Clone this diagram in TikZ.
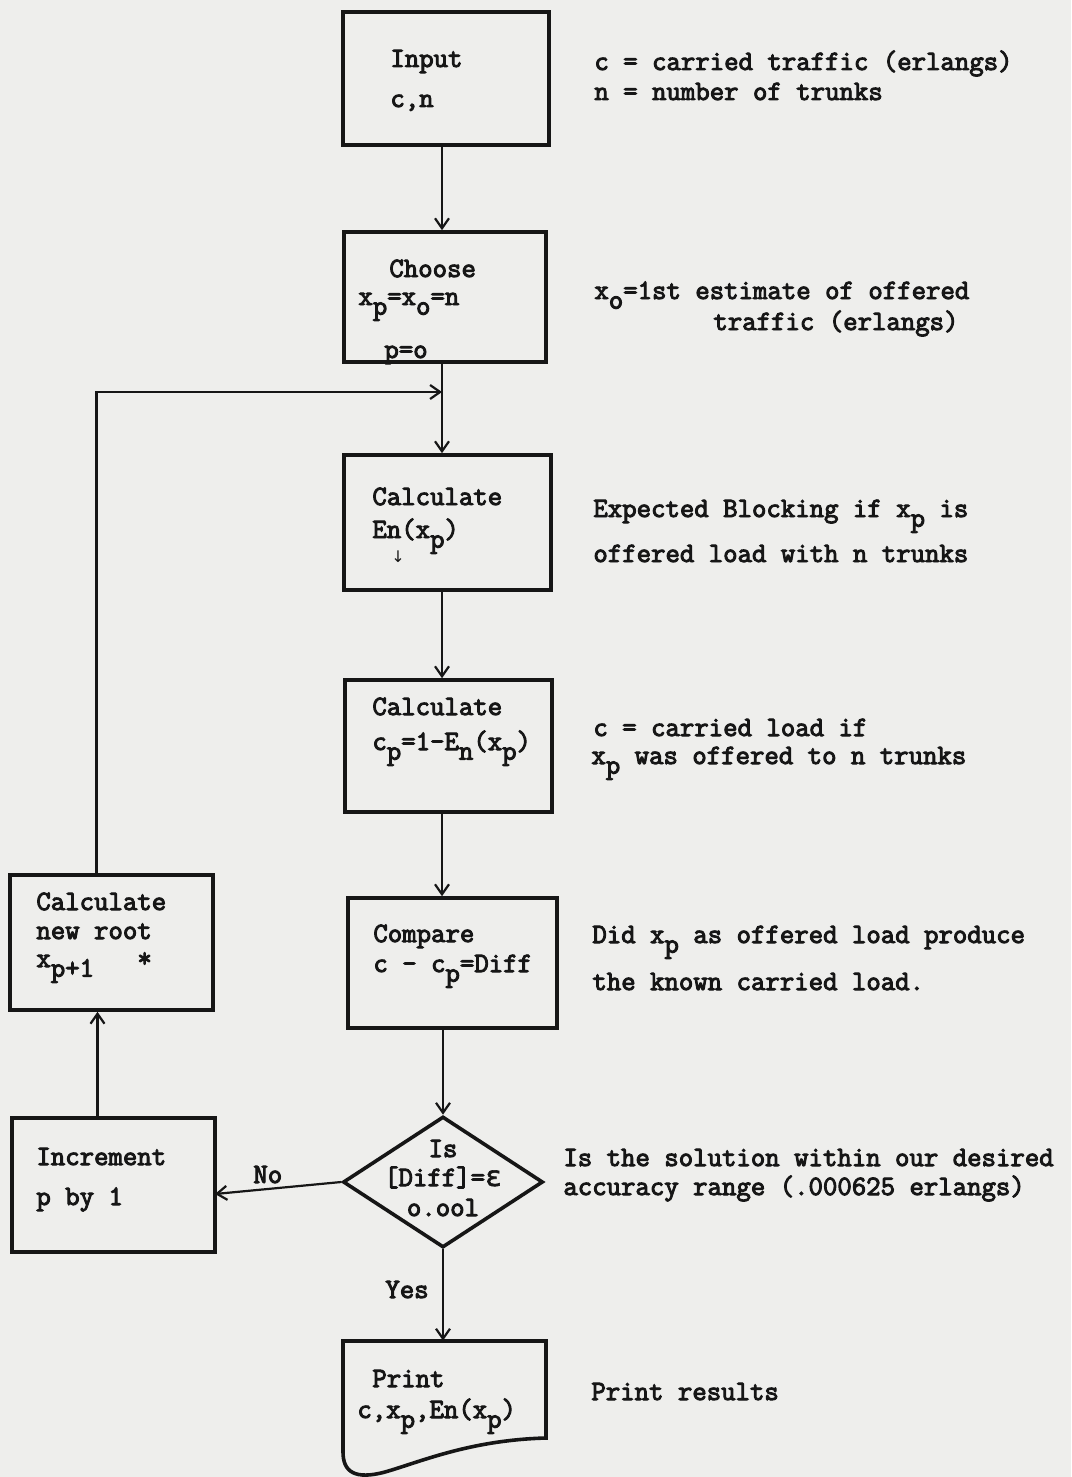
\documentclass[tikz,border=0pt]{standalone}
\usepackage{fontspec}
\newfontfamily\symfont{DejaVu Sans}
\newfontfamily\grkfont{DejaVu Sans Mono}[FakeBold=2]
\newfontfamily\twfont{Latin Modern Mono}[FakeBold=3.5]
\usetikzlibrary{shapes.geometric,arrows.meta}
\newcommand\sbs[1]{\raisebox{-0.8ex}{#1}}
\definecolor{ink}{RGB}{22,22,22}
\definecolor{paper}{RGB}{238,238,236}
\begin{document}
\begin{tikzpicture}[x=0.5pt,y=-0.5pt,
  box/.style={draw=ink, line width=1.8pt, inner sep=0pt},
  txt/.style={anchor=base west, inner sep=0pt, text=ink,
    font=\twfont\fontsize{14}{16}\selectfont},
  ctxt/.style={txt, anchor=base},
  arr/.style={draw=ink, line width=1.1pt, -{Straight Barb[length=5pt,width=7pt]}}]
\fill[paper] (0,0) rectangle (1071,1477);
\useasboundingbox (0,0) rectangle (1071,1477);

% boxes
\node[box, minimum width=103pt,   minimum height=66.5pt] (input)   at (446,78.5)   {};
\node[box, minimum width=101pt,   minimum height=65pt]   (choose)  at (445,297)    {};
\node[box, minimum width=103.5pt, minimum height=67.5pt] (calcen)  at (447.5,522.5){};
\node[box, minimum width=103.5pt, minimum height=66pt]   (calccp)  at (448.5,746)  {};
\node[box, minimum width=104.5pt, minimum height=65pt]   (compare) at (452.5,963)  {};
\node[box, diamond, minimum width=100pt, minimum height=65.5pt] (dec) at (443,1182) {};
\node[box, minimum width=101.5pt, minimum height=67.5pt] (newroot) at (111.5,942.5){};
\node[box, minimum width=101.5pt, minimum height=67pt]   (incr)    at (113.5,1185) {};
\node[inner sep=0pt, minimum width=101.5pt, minimum height=64.5pt] (print) at (444.5,1405.5) {};
\draw[ink, line width=1.8pt] (343,1341) -- (546,1341) -- (546,1438)
  .. controls (470,1440) and (420,1462) .. (385,1472)
  .. controls (355,1480) and (343,1472) .. (343,1452) -- cycle;

% box texts
\node[txt] (t1a) at (390,67)  {Input};
\node[txt] (t1b) at (390,107) {c,n};
\node[txt] (t2a) at (389,277) {Choose};
\node[txt] (t2b) at (358,305) {x\sbs{p}=x\sbs{o}=n};
\node[txt] (t2c) at (384,358) {p=o};
\node[txt] (t3a) at (372,505) {Calculate};
\node[txt] (t3b) at (372,538) {En(x\sbs{p})};
\node[anchor=center, inner sep=0pt, text=ink, font=\symfont\fontsize{8}{8}\selectfont] (t3c) at (398,557) {↓};
\node[txt] (t4a) at (372,715) {Calculate};
\node[txt] (t4b) at (372,750) {c\sbs{p}=1-E\sbs{n}(x\sbs{p})};
\node[txt] (t5a) at (373,942) {Compare};
\node[txt] (t5b) at (373,972) {c - c\sbs{p}=Diff};
\node[ctxt] (t6a) at (443,1157) {Is};
\node[ctxt] (t6b) at (443,1186) {[Diff]={\grkfont ε}};
\node[ctxt] (t6c) at (443,1216) {o.ool};
\node[txt] (t7a) at (372,1387) {Print};
\node[txt] (t7b) at (357,1418) {c,x\sbs{p},En(x\sbs{p})};
\node[txt] (t8a) at (36,910)  {Calculate};
\node[txt] (t8b) at (36,939)  {new root};
\node[txt] (t8c) at (36,967)  {x\sbs{p+1}};
\node[txt] (t8d) at (137,967) {*};
\node[txt] (t9a) at (36,1165) {Increment};
\node[txt] (t9b) at (36,1205) {p by 1};

% side texts
\node[txt] (s1a) at (594,70)   {c = carried traffic (erlangs)};
\node[txt] (s1b) at (594,100)  {n = number of trunks};
\node[txt] (s2a) at (594,299)  {x\sbs{o}=1st estimate of offered};
\node[txt] (s2b) at (713,330)  {traffic (erlangs)};
\node[txt] (s3a) at (593,517)  {Expected Blocking if x\sbs{p} is};
\node[txt] (s3b) at (593,562)  {offered load with n trunks};
\node[txt] (s4a) at (593,736)  {c = carried load if};
\node[txt] (s4b) at (591,764)  {x\sbs{p} was offered to n trunks};
\node[txt] (s5a) at (592,943)  {Did x\sbs{p} as offered load produce};
\node[txt] (s5b) at (592,990)  {the known carried load.};
\node[txt] (s6a) at (563,1166) {Is the solution within our desired};
\node[txt] (s6b) at (563,1195) {accuracy range (.000625 erlangs)};
\node[txt] (s7)  at (591,1400) {Print results};
\node[txt] (no)  at (253,1183) {No};
\node[txt] (yes) at (385,1298) {Yes};

% connectors
\coordinate (col) at (442,0);
\coordinate (join) at (442,392);
\coordinate (noend) at (215,1194);
\draw[arr] (input.south -| col) -- (choose.north -| col);
\draw[draw=ink, line width=1.1pt] (choose.south -| col) -- (join);
\draw[arr] (join) -- (calcen.north -| col);
\draw[arr] ([xshift=-7.5pt]newroot.north) |- (join);
\draw[arr] (calcen.south -| col) -- (calccp.north -| col);
\draw[arr] (calccp.south -| col) -- (compare.north -| col);
\draw[arr] (compare.south -| dec.north) -- (dec.north);
\draw[arr] (dec.west) -- (noend);
\draw[arr] ([xshift=-8pt]incr.north) -- ([xshift=-8pt]incr.north |- newroot.south);
\draw[arr] (dec.south) -- (dec.south |- print.north);
\end{tikzpicture}
\end{document}
